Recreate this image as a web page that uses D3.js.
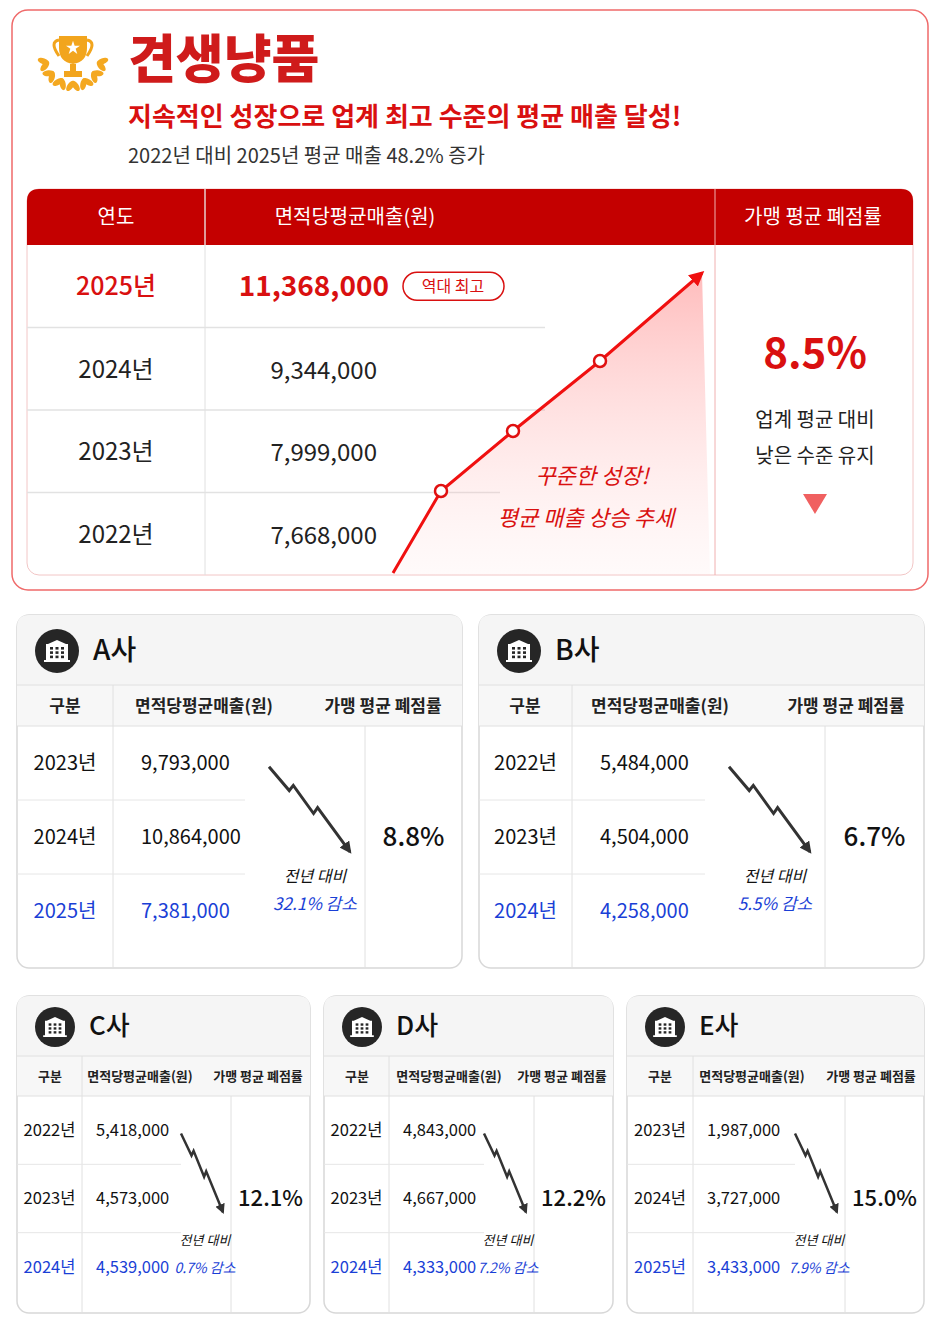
<!DOCTYPE html>
<html><head><meta charset="utf-8">
<script src="https://cdn.jsdelivr.net/npm/d3@7"></script>
<style>body{margin:0;background:#fff}text{font-family:"Noto Sans CJK KR","Noto Sans",sans-serif}</style>
</head><body><div id="chart"></div>
<script>
// main brand data
var mainYears = ["2025년", "2024년", "2023년", "2022년"];
var mainSales = [11368000, 9344000, 7999000, 7668000];
var mainRate = "8.5%";

// competitors
var compNames = ["A사", "B사", "C사", "D사", "E사"];
var compYears = [["2023년","2024년","2025년"],["2022년","2023년","2024년"],["2022년","2023년","2024년"],["2022년","2023년","2024년"],["2023년","2024년","2025년"]];
var compSales = [[9793000,10864000,7381000],[5484000,4504000,4258000],[5418000,4573000,4539000],[4843000,4667000,4333000],[1987000,3727000,3433000]];
var compRates = ["8.8%","6.7%","12.1%","12.2%","15.0%"];
var compDrop = ["32.1% 감소","5.5% 감소","0.7% 감소","7.2% 감소","7.9% 감소"];

var fmt = d3.format(",");
var RED = "#d91010", BLUE = "#1a3fd6";

var svg = d3.select("#chart").append("svg").attr("width", 941).attr("height", 1328);
var defs = svg.append("defs");
var gr = defs.append("linearGradient").attr("id","area").attr("x1",0).attr("y1",0).attr("x2",0).attr("y2",1);
gr.append("stop").attr("offset","0%").attr("stop-color","#ff6b6b").attr("stop-opacity",0.45);
gr.append("stop").attr("offset","100%").attr("stop-color","#ffd0d0").attr("stop-opacity",0.1);
defs.append("marker").attr("id","arr").attr("viewBox","0 0 10 10").attr("refX",8).attr("refY",5)
  .attr("markerWidth",5).attr("markerHeight",5).attr("orient","auto")
  .append("path").attr("d","M0,0L10,5L0,10Z").attr("fill","#f01010");
defs.append("marker").attr("id","darr").attr("viewBox","0 0 10 10").attr("refX",8).attr("refY",5)
  .attr("markerWidth",4).attr("markerHeight",4).attr("orient","auto")
  .append("path").attr("d","M0,0L10,5L0,10Z").attr("fill","#333");

// ---------- top card
svg.append("rect").attr("x",12).attr("y",10).attr("width",916).attr("height",580).attr("rx",16)
  .attr("fill","#fff").attr("stroke","#ef6a6a").attr("stroke-width",1.5);

// trophy with laurels
var tr = svg.append("g").attr("transform","translate(73,56)");
[-1,1].forEach(function(s){
  for (var i=0;i<7;i++){
    var a = (110 + i*25) * Math.PI/180;   // from near top down to bottom
    var lx = s*-Math.cos(a)*-1*30, ly = -Math.sin(a)*-1*0;
    lx = s*30*Math.sin(a); ly = -30*Math.cos(a) * -1;
    var ang = (a*180/Math.PI) * s;
    tr.append("ellipse").attr("cx",lx).attr("cy",-ly).attr("rx",6).attr("ry",3).attr("fill","#f4a820")
      .attr("transform","rotate("+(s>0?ang-90+30:-(ang*-1)+90-30)+","+lx+","+(-ly)+")");
  }
});
tr.append("path").attr("d","M-14,-20 H14 V-8 Q14,6 0,8 Q-14,6 -14,-8Z").attr("fill","#f2a51d");
tr.append("path").attr("d","M-3,8 H3 V15 H9 V21 H-9 V15 H-3Z").attr("fill","#f2a51d");
tr.append("path").attr("d","M-14,-16 Q-24,-14 -14,0 M14,-16 Q24,-14 14,0").attr("fill","none").attr("stroke","#f2a51d").attr("stroke-width",3);
tr.append("path").attr("d", d3.symbol(d3.symbolStar, 60)()).attr("transform","translate(0,-8)").attr("fill","#fff");

svg.append("text").attr("x",128).attr("y",78).text("견생냥품").attr("font-size",52).attr("font-weight",900).attr("fill","#cf1b1b");
svg.append("text").attr("x",128).attr("y",126).text("지속적인 성장으로 업계 최고 수준의 평균 매출 달성!").attr("font-size",26).attr("font-weight",700).attr("fill",RED);
svg.append("text").attr("x",128).attr("y",163).text("2022년 대비 2025년 평균 매출 48.2% 증가").attr("font-size",20).attr("fill","#333");

// table
var tx0 = 27, tx1 = 913, ty0 = 189, th = 56, tyEnd = 575;
svg.append("rect").attr("x",tx0).attr("y",ty0).attr("width",tx1-tx0).attr("height",tyEnd-ty0).attr("rx",12)
  .attr("fill","#fff").attr("stroke","#f2c6c6");
svg.append("path").attr("d","M"+tx0+","+(ty0+th)+"V"+(ty0+12)+"Q"+tx0+","+ty0+" "+(tx0+12)+","+ty0+"H"+(tx1-12)+"Q"+tx1+","+ty0+" "+tx1+","+(ty0+12)+"V"+(ty0+th)+"Z").attr("fill","#c40000");
[["연도",116],["면적당평균매출(원)",355],["가맹 평균 폐점률",813]].forEach(function(h){
  svg.append("text").attr("x",h[1]).attr("y",ty0+th/2+7).attr("text-anchor","middle").attr("font-size",20).attr("fill","#fff").text(h[0]);
});
[205,715].forEach(function(x){ svg.append("line").attr("x1",x).attr("x2",x).attr("y1",ty0).attr("y2",tyEnd).attr("stroke",x===205?"#e0e0e0":"#f0b0b0"); });
svg.append("line").attr("x1",205).attr("x2",205).attr("y1",ty0).attr("y2",ty0+th).attr("stroke","#fff").attr("stroke-opacity",0.6);

var rowY = d3.scaleBand().domain(mainYears).range([ty0+th, tyEnd]);
var lineEnds = [545, 545, 500, 420];
mainYears.forEach(function(y,i){
  var cy = rowY(y) + rowY.bandwidth()/2;
  if (i>0) svg.append("line").attr("x1",tx0).attr("x2",lineEnds[i-1]).attr("y1",rowY(y)).attr("y2",rowY(y)).attr("stroke","#e2e2e2").attr("stroke-width",1.5);
  svg.append("text").attr("x",116).attr("y",cy+9).attr("text-anchor","middle").attr("font-size",i===0?25:24)
    .attr("font-weight",i===0?500:400).attr("fill",i===0?RED:"#222").text(y);
  svg.append("text").attr("x",i===0?389:377).attr("y",cy+10).attr("text-anchor","end").attr("font-size",i===0?28:24)
    .attr("font-weight",i===0?600:400).attr("fill",i===0?RED:"#222").text(fmt(mainSales[i]));
});
// badge
var by = rowY(mainYears[0]) + rowY.bandwidth()/2;
svg.append("rect").attr("x",403).attr("y",by-14).attr("width",101).attr("height",28).attr("rx",14).attr("fill","#fff").attr("stroke",RED).attr("stroke-width",1.5);
svg.append("text").attr("x",453).attr("y",by+6).attr("text-anchor","middle").attr("font-size",16).attr("fill",RED).text("역대 최고");

// growth line (oldest -> newest)
var chron = mainYears.slice().reverse();
var gx = d3.scaleLinear().domain([0,3]).range([441,680]);
var gy = d3.scaleLinear().domain([0,3]).range([491,292]);
var pts = chron.map(function(d,i){ return [gx(i), gy(i)]; });
pts[2] = [600, 361]; pts[1] = [513, 431];
var start = [393, 573], tip = [702, 273];
var area = [start].concat(pts.slice(0,3)).concat([tip, [710, 575], [393,575]]);
svg.append("path").attr("d", d3.line()(area)).attr("fill","url(#area)");
svg.append("path").attr("d", d3.line()([start].concat(pts.slice(0,3)).concat([tip]))).attr("fill","none")
  .attr("stroke","#f01010").attr("stroke-width",3).attr("marker-end","url(#arr)");
svg.selectAll(".gp").data(pts.slice(0,3)).enter().append("circle").attr("cx",function(d){return d[0];}).attr("cy",function(d){return d[1];})
  .attr("r",6).attr("fill","#fff").attr("stroke","#e01010").attr("stroke-width",2.5);
svg.append("text").attr("x",592).attr("y",484).attr("text-anchor","middle").attr("font-size",22).attr("font-style","italic").attr("fill",RED).text("꾸준한 성장!");
svg.append("text").attr("x",586).attr("y",526).attr("text-anchor","middle").attr("font-size",22).attr("font-style","italic").attr("fill",RED).text("평균 매출 상승 추세");

svg.append("text").attr("x",815).attr("y",368).attr("text-anchor","middle").attr("font-size",42).attr("font-weight",700).attr("fill",RED).text(mainRate);
svg.append("text").attr("x",815).attr("y",427).attr("text-anchor","middle").attr("font-size",20).attr("fill","#222").text("업계 평균 대비");
svg.append("text").attr("x",815).attr("y",463).attr("text-anchor","middle").attr("font-size",20).attr("fill","#222").text("낮은 수준 유지");
svg.append("path").attr("d","M803,494H827L815,514Z").attr("fill","#f06060");

// ---------- competitor cards
var big = {h:353, hh:70, ch:41, ir:22, nameSize:28, colSize:17, valSize:20, rateSize:26, noteSize:16, vOff:28};
var small = {h:317, hh:60, ch:40, ir:20, nameSize:26, colSize:13, valSize:16.5, rateSize:22, noteSize:13, vOff:14};
// x, y, width, col1, col2, header label centres
var cardPos = [
  [17,615,445,96,348,big,[48,187,366]],
  [479,615,445,93,346,big,[46,181,367]],
  [17,996,293,65,214,small,[33,123,241]],
  [324,996,289,65,210,small,[33,125,238]],
  [627,996,297,66,218,small,[33,125,244]]];

cardPos.forEach(function(p, k){
  var L = p[5], w = p[2], c1 = p[3], c2 = p[4], hx = p[6];
  var g = svg.append("g").attr("transform","translate("+p[0]+","+p[1]+")");
  g.append("rect").attr("width",w).attr("height",L.h).attr("rx",12).attr("fill","#fff").attr("stroke","#d8d8d8").attr("stroke-width",1.5);
  g.append("path").attr("d","M0,"+L.hh+"V12Q0,0 12,0H"+(w-12)+"Q"+w+",0 "+w+",12V"+L.hh+"Z").attr("fill","#f5f5f5");
  g.append("rect").attr("y",L.hh).attr("width",w).attr("height",L.ch).attr("fill","#f7f7f7");
  g.append("line").attr("x1",0).attr("x2",w).attr("y1",L.hh).attr("y2",L.hh).attr("stroke","#e0e0e0");
  g.append("line").attr("x1",0).attr("x2",w).attr("y1",L.hh+L.ch).attr("y2",L.hh+L.ch).attr("stroke","#e0e0e0");
  // icon
  var ic = g.append("g").attr("transform","translate("+(L.ir+18)+","+(L.hh/2+1)+")");
  ic.append("circle").attr("r",L.ir).attr("fill","#262626");
  var s = L.ir/22;
  ic.append("path").attr("d","M"+(-11*s)+","+(-7*s)+"H"+(11*s)+"V"+(9*s)+"H"+(-11*s)+"Z M"+(-13*s)+","+(9*s)+"H"+(13*s)+"V"+(11*s)+"H"+(-13*s)+"Z M"+(-9*s)+","+(-7*s)+"L0,"+(-11*s)+"L"+(9*s)+","+(-7*s)+"Z").attr("fill","#fff");
  for (var r=0;r<3;r++) for (var c=0;c<3;c++)
    ic.append("rect").attr("x",(-7+c*5.5)*s).attr("y",(-4+r*4.3)*s).attr("width",3*s).attr("height",2.6*s).attr("fill","#262626");
  g.append("text").attr("x",L.ir*2+32).attr("y",L.hh/2+L.nameSize*0.36).attr("font-size",L.nameSize).attr("font-weight",500).attr("fill","#111").text(compNames[k]);
  // column headers
  var hy = L.hh + L.ch/2 + L.colSize*0.36;
  ["구분","면적당평균매출(원)","가맹 평균 폐점률"].forEach(function(t,j){
    g.append("text").attr("x",hx[j]).attr("y",hy).attr("text-anchor","middle").attr("font-size",L.colSize).attr("font-weight",600).attr("fill","#222").text(t);
  });
  g.append("line").attr("x1",c1).attr("x2",c1).attr("y1",L.hh).attr("y2",L.h).attr("stroke","#e0e0e0");
  g.append("line").attr("x1",c2).attr("x2",c2).attr("y1",L.hh+L.ch).attr("y2",L.h).attr("stroke","#e0e0e0");
  // rows
  var ry = d3.scaleBand().domain(compYears[k]).range([L.hh+L.ch, L.h - (L===big?20:12)]);
  compYears[k].forEach(function(yr,i){
    var cy = ry(yr) + ry.bandwidth()/2 + L.valSize*0.36;
    var col = i===2 ? BLUE : "#111";
    if (i>0) g.append("line").attr("x1",0).attr("x2",L===big?c2-120:c2-50).attr("y1",ry(yr)).attr("y2",ry(yr)).attr("stroke","#e6e6e6");
    g.append("text").attr("x",c1/2).attr("y",cy).attr("text-anchor","middle").attr("font-size",L.valSize).attr("fill",col).text(yr);
    g.append("text").attr("x",c1+L.vOff).attr("y",cy).attr("font-size",L.valSize).attr("fill",col).text(fmt(compSales[k][i]));
  });
  // zigzag down arrow
  var ax0 = L===big ? c2-96 : c2-50, ay0 = ry(compYears[k][0]) + ry.bandwidth()*0.55;
  var ax1 = L===big ? c2-15 : c2-8, ay1 = ry(compYears[k][1]) + ry.bandwidth()*0.7;
  var zx = d3.scaleLinear().domain([0,1]).range([ax0,ax1]), zy = d3.scaleLinear().domain([0,1]).range([ay0,ay1]);
  var zz = [[0,0],[0.25,0.28],[0.3,0.22],[0.55,0.55],[0.6,0.48],[1,1]].map(function(d){return [zx(d[0]), zy(d[1])];});
  g.append("path").attr("d",d3.line()(zz)).attr("fill","none").attr("stroke","#333").attr("stroke-width",L===big?3:2.5).attr("marker-end","url(#darr)");
  var nx = L===big ? c2-50 : c2-26;
  var ly = ry(compYears[k][2]);
  g.append("text").attr("x",nx).attr("y",ly+(L===big?8:12)).attr("text-anchor","middle").attr("font-size",L.noteSize).attr("font-style","italic").attr("fill","#111").text("전년 대비");
  g.append("text").attr("x",nx).attr("y",ly+(L===big?36:40)).attr("text-anchor","middle").attr("font-size",L.noteSize+1).attr("font-style","italic").attr("fill",BLUE).text(compDrop[k]);
  g.append("text").attr("x",(c2+w)/2).attr("y",ry(compYears[k][1])+ry.bandwidth()/2+L.rateSize*0.36).attr("text-anchor","middle").attr("font-size",L.rateSize).attr("font-weight",500).attr("fill","#111").text(compRates[k]);
});
</script></body></html>
